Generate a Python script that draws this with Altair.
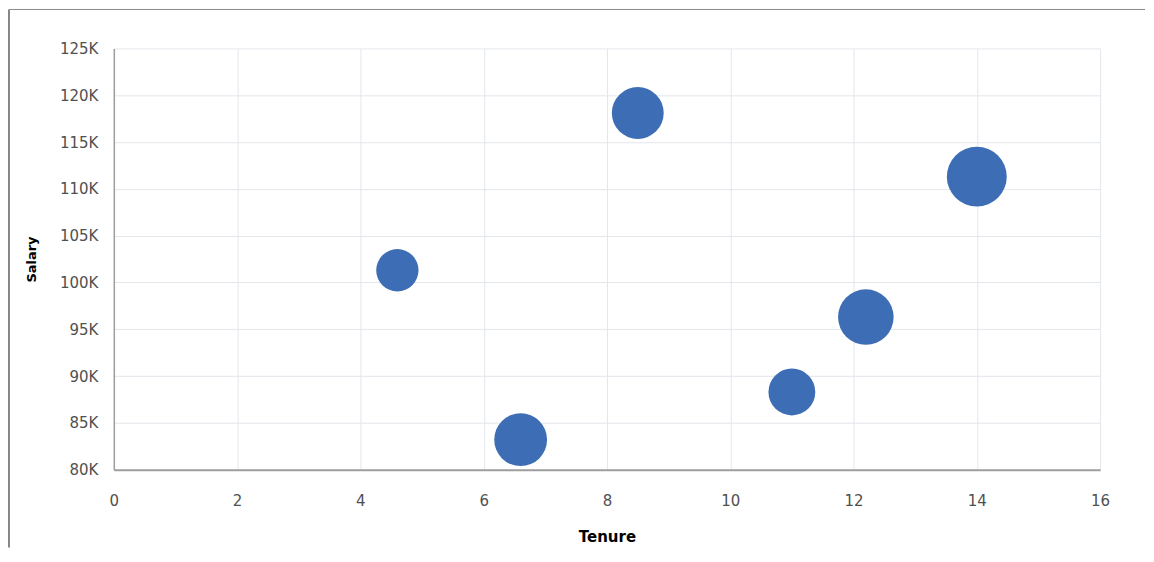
import altair as alt
import pandas as pd

tenure = [4.6, 6.6, 8.5, 11.0, 12.2, 14.0]
salary = [101300, 83200, 118100, 88300, 96300, 111300]
headcount = [18, 28, 27, 22, 31, 36]

x_ticks = [0, 2, 4, 6, 8, 10, 12, 14, 16]
y_ticks = [80000, 85000, 90000, 95000, 100000, 105000, 110000, 115000, 120000, 125000]

df = pd.DataFrame({"Tenure": tenure, "Salary": salary, "Headcount": headcount})

FONT = "DejaVu Sans"
W, H = 988, 422

points = alt.Chart(df).mark_circle(color="#3d6db5", opacity=1).encode(
    x=alt.X("Tenure:Q",
            scale=alt.Scale(domain=[0, 16], nice=False, zero=False),
            axis=alt.Axis(values=x_ticks, title="Tenure", labelFontSize=15, labelFont=FONT,
                          labelColor="#505050", labelPadding=24, ticks=False, labelFlush=False,
                          domainColor="#9e9e9e", domainWidth=2,
                          gridColor="#e3e6eb", gridWidth=1,
                          titleFont=FONT, titleFontSize=15, titleFontWeight="bold",
                          titleColor="#000000", titlePadding=21)),
    y=alt.Y("Salary:Q",
            scale=alt.Scale(domain=[80000, 125000], nice=False, zero=False),
            axis=alt.Axis(values=y_ticks, title="Salary", labelExpr="datum.value/1000 + 'K'",
                          labelFontSize=15, labelFont=FONT, labelColor="#505050",
                          labelPadding=16, ticks=False, labelFlush=False,
                          domainColor="#9e9e9e", domainWidth=1.5,
                          gridColor="#e3e6eb", gridWidth=1,
                          titleFont=FONT, titleFontSize=13, titleFontWeight="bold",
                          titleColor="#000000", titlePadding=21)),
    size=alt.Size("Headcount:Q", scale=alt.Scale(domain=[0, 36], range=[0, 3600]), legend=None),
)

frame = alt.Data(values=[{"k": 1}])
left_rule = alt.Chart(frame).mark_rule(color="#111111", strokeWidth=1).encode(
    x=alt.value(-105), y=alt.value(-39), y2=alt.value(500)
)
top_rule = alt.Chart(frame).mark_rule(color="#888888", strokeWidth=1).encode(
    x=alt.value(-105), x2=alt.value(1033), y=alt.value(-39)
)

chart = alt.layer(points, left_rule, top_rule).properties(
    width=W, height=H, padding=0
).configure_view(stroke=None)

chart.save("out.html", embed_options={"renderer": "svg", "actions": False})
